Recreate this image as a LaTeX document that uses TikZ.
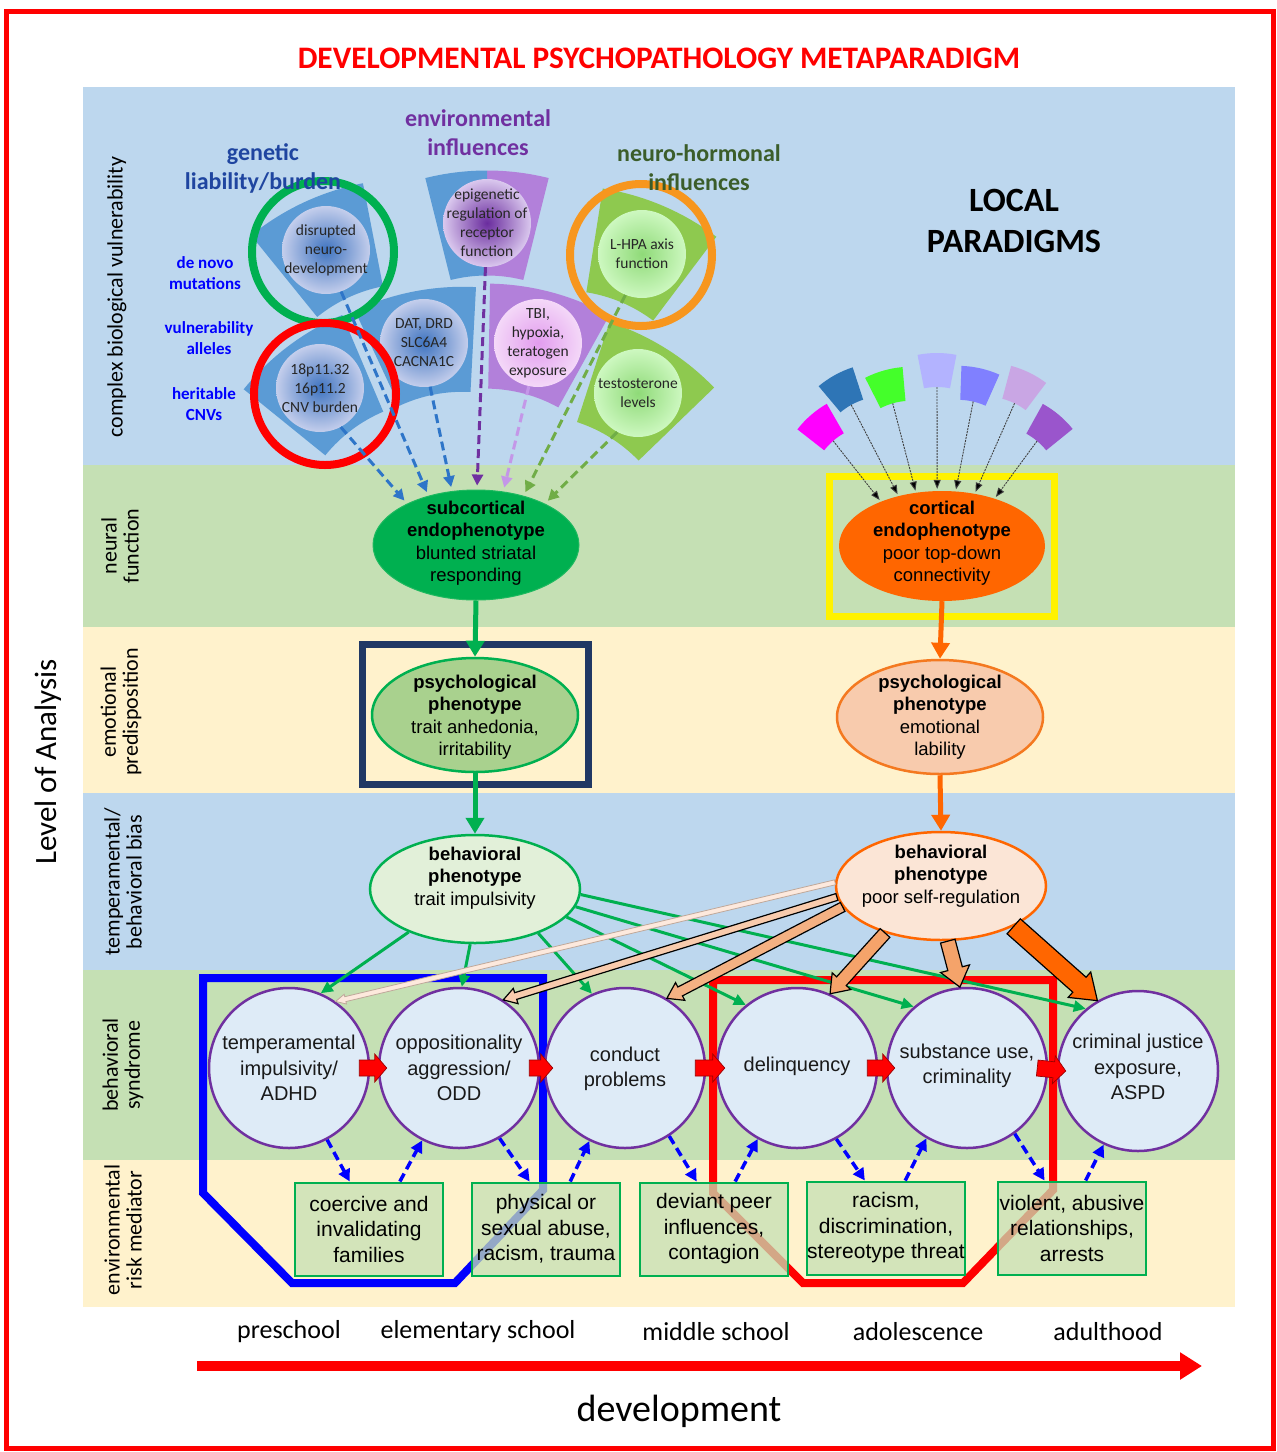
\documentclass[tikz,border=0pt]{standalone}
\usepackage{fontspec}
\setmainfont{Carlito}
\newfontfamily\arialf{Liberation Sans}
\usetikzlibrary{calc,shapes.geometric,arrows.meta}

\definecolor{bandblue}{HTML}{BDD7EE}
\definecolor{bandgreen}{HTML}{C5E0B4}
\definecolor{bandyellow}{HTML}{FFF2CC}
\definecolor{secblue}{HTML}{5B9BD5}
\definecolor{secpurple}{HTML}{B280DA}
\definecolor{secgreen}{HTML}{8EC94F}
\definecolor{genblue}{HTML}{1F45A0}
\definecolor{envpurple}{HTML}{7030A0}
\definecolor{neurogreen}{HTML}{3B5D2A}
\definecolor{msgreen}{HTML}{00B050}
\definecolor{subedge}{HTML}{1EB95F}
\definecolor{orng}{HTML}{FF6600}
\definecolor{orngedge}{HTML}{F47920}
\definecolor{ringorange}{HTML}{F7961E}
\definecolor{navy}{HTML}{203864}
\definecolor{syncirc}{HTML}{DEEBF7}
\definecolor{synring}{HTML}{7030A0}
\definecolor{dashblue}{HTML}{2E75C8}
\definecolor{lightpurp}{HTML}{C497E8}
\definecolor{dashgreen}{HTML}{70AD47}
\definecolor{cbin}{HTML}{3F74C0}
\definecolor{cbout}{HTML}{C4CEEC}
\definecolor{cpin}{HTML}{6A2C9E}
\definecolor{cpout}{HTML}{DAC8EE}
\definecolor{ctin}{HTML}{E29CEE}
\definecolor{ctout}{HTML}{F4D8F8}
\definecolor{cgin}{HTML}{8FDA78}
\definecolor{cgout}{HTML}{CDF8C0}
\definecolor{lpsyfill}{HTML}{A9D18E}
\definecolor{rpsyfill}{HTML}{F8CBAD}
\definecolor{lbpfill}{HTML}{E2F0D9}
\definecolor{rbpfill}{HTML}{FBE5D6}
\definecolor{paleA}{HTML}{FDE9DD}
\definecolor{paleB}{HTML}{BFA89A}
\definecolor{peachA}{HTML}{F8CBAD}
\definecolor{peachB}{HTML}{F4B183}
\definecolor{peachC}{HTML}{F5A36A}
\definecolor{blockedge}{HTML}{9A0000}
\definecolor{sa}{HTML}{FF00FF}
\definecolor{sb}{HTML}{2E75B6}
\definecolor{sc}{HTML}{44FF2A}
\definecolor{sd}{HTML}{B3B3FF}
\definecolor{se}{HTML}{8080FF}
\definecolor{sf}{HTML}{C9A6E4}
\definecolor{sg}{HTML}{9A55CC}

% ring sector around an apex: apex, from angle, to angle, inner r, outer r, style
\newcommand\annsec[6]{%
  \fill[#6] ($(#1)+({#4*cos(#2)},{-#4*sin(#2)})$) --
    ($(#1)+({#5*cos(#2)},{-#5*sin(#2)})$)
    arc[start angle={-(#2)}, end angle={-(#3)}, radius=#5] --
    ($(#1)+({#4*cos(#3)},{-#4*sin(#3)})$)
    arc[start angle={-(#3)}, end angle={-(#2)}, radius=#4] -- cycle;}
% large sector: name, centre, direction, colour
\newcommand\bigsec[4]{%
  \coordinate (#1-ap) at ($(#2)+({-202.5*cos(#3)},{202.5*sin(#3)})$);
  \annsec{#1-ap}{#3-14}{#3+14}{150}{255}{#4}}
% small sector: name, centre, direction, colour
\newcommand\smallsec[4]{%
  \coordinate (#1-ap) at ($(#2)+({-85*cos(#3)},{85*sin(#3)})$);
  \coordinate (#1-in) at ($(#1-ap)+({68*cos(#3)},{-68*sin(#3)})$);
  \annsec{#1-ap}{#3-11}{#3+11}{68}{102}{#4}}
% block arrow: from, to, shaft half width, head half width, head length, style
\newcommand\fatarrow[6]{%
  \coordinate (fa-h) at ($(#2)!#5pt!(#1)$);
  \filldraw[#6] ($(#1)!#3pt!90:(#2)$) -- ($(fa-h)!#3pt!90:(#2)$) --
    ($(fa-h)!#4pt!90:(#2)$) -- (#2) -- ($(fa-h)!#4pt!-90:(#2)$) --
    ($(fa-h)!#3pt!-90:(#2)$) -- ($(#1)!#3pt!-90:(#2)$) -- cycle;}
% red step arrow between two neighbouring syndrome circles
\newcommand\steparrow[3]{%
  \coordinate (#1-s) at ($(#2.east)+(-11,0)$);
  \coordinate (#1-e) at ($(#3.west)+(9,0)$);
  \fatarrow{#1-s}{#1-e}{8}{14}{12}{fill=red, draw=blockedge, line width=0.7pt}}

\begin{document}
\begin{tikzpicture}[x=1pt,y=-1pt,
  rowlab/.style={rotate=90, align=center, font=\fontsize{22}{22}\selectfont},
  grouplab/.style={align=center, font=\bfseries\fontsize{24}{29}\selectfont},
  sidelab/.style={align=center, text=blue, font=\bfseries\fontsize{17}{21}\selectfont},
  topcirc/.style={circle, minimum size=88pt, inner sep=0pt},
  toptext/.style={align=center, font=\fontsize{15.5}{19}\selectfont, text=black!85},
  ring/.style={circle, draw=#1, line width=8pt, minimum size=142pt, inner sep=0pt},
  dasharr/.style={draw=#1, line width=3pt, dash pattern=on 9pt off 5pt, -{Triangle[length=11pt,width=11pt]}, shorten >=4pt},
  ellbase/.style={ellipse, inner sep=0pt, minimum width=206pt, minimum height=110pt},
  etext/.style={align=center, font=\arialf\fontsize{18.5}{22.5}\selectfont, text=black},
  bigarr/.style={draw=#1, line width=5pt, -{Triangle[length=16pt,width=18pt]}},
  syn/.style={circle, minimum size=160pt, inner sep=0pt, fill=syncirc, draw=synring, line width=2.5pt},
  syntext/.style={align=center, font=\arialf\fontsize{20}{25.5}\selectfont, text=black!90},
  envbox/.style={draw=msgreen, line width=2pt, fill=bandgreen, fill opacity=0.75, text opacity=1, minimum width=148pt, minimum height=93pt, inner sep=0pt, align=center, font=\arialf\fontsize{21}{25.5}\selectfont},
  greenarr/.style={draw=msgreen, line width=3pt, -{Triangle[length=12pt,width=11pt]}},
  bluedash/.style={draw=blue, line width=3.5pt, dash pattern=on 9pt off 5pt, -{Triangle[length=12pt,width=12pt]}},
  thinarr/.style={draw=black!75, line width=0.9pt, dash pattern=on 2pt off 1pt, -{Triangle[length=9pt,width=7pt,fill=black]}, shorten >=2pt},
  timelab/.style={font=\fontsize{26}{30}\selectfont},
]
\useasboundingbox (0,0) rectangle (1277,1452);
\fill[white] (0,0) rectangle (1277,1452);

% level bands
\fill[bandblue]   (83,87)   rectangle (1235,465);
\fill[bandgreen]  (83,465)  rectangle (1235,627);
\fill[bandyellow] (83,627)  rectangle (1235,793);
\fill[bandblue]   (83,793)  rectangle (1235,970);
\fill[bandgreen]  (83,970)  rectangle (1235,1160);
\fill[bandyellow] (83,1160) rectangle (1235,1307);

% outer frame and title
\draw[red, line width=5pt] (6,11) rectangle (1273,1448);
\node[font=\bfseries\fontsize{31.3}{36}\selectfont, text=red] (title) at (659,58) {DEVELOPMENTAL PSYCHOPATHOLOGY METAPARADIGM};

% level labels
\node[font=\fontsize{31}{34}\selectfont, rotate=90] (loa) at (48,762) {Level of Analysis};
\node[rowlab] (r1) at (117,297) {complex biological vulnerability};
\node[rowlab] (r2) at (120,546) {neural\\function};
\node[rowlab] (r3) at (121,712) {emotional\\predisposition};
\node[rowlab] (r4) at (123,882) {temperamental/\\behavioral bias};
\node[rowlab] (r5) at (123,1065) {behavioral\\syndrome};
\node[rowlab] (r6) at (123,1230) {environmental\\risk mediator};

% biological influence sectors
\bigsec{dat}{424,343}{101}{secblue}
\bigsec{tbi}{538,343}{75}{secpurple}
\coordinate (epi-ap) at (487,425.5);
\annsec{epi-ap}{76}{90}{150}{255}{secpurple}
\annsec{epi-ap}{90}{104}{150}{255}{secblue}
\bigsec{dis}{326,250}{115}{secblue}
\bigsec{cnv}{320,388}{127}{secblue}
\bigsec{lhpa}{642,254}{67}{secgreen}
\bigsec{tes}{638,393}{58}{secgreen}

\node[topcirc, inner color=cbin, outer color=cbout] (dat) at (424,343) {};
\node[topcirc, inner color=ctin, outer color=ctout] (tbi) at (538,343) {};
\node[topcirc, inner color=cpin, outer color=cpout] (epi) at (487,223) {};
\node[topcirc, inner color=cbin, outer color=cbout] (dis) at (326,250) {};
\node[topcirc, inner color=cbin, outer color=cbout] (cnv) at (320,388) {};
\node[topcirc, inner color=cgin, outer color=cgout] (lhpa) at (642,254) {};
\node[topcirc, inner color=cgin, outer color=cgout] (tes) at (638,393) {};

\node[toptext] (dat-t) at (dat) {DAT, DRD\\SLC6A4\\CACNA1C};
\node[toptext] (tbi-t) at (tbi) {TBI,\\hypoxia,\\teratogen\\exposure};
\node[toptext] (epi-t) at (epi) {epigenetic\\regulation of\\receptor\\function};
\node[toptext] (dis-t) at (dis) {disrupted\\neuro-\\development};
\node[toptext] (cnv-t) at (cnv) {18p11.32\\16p11.2\\CNV burden};
\node[toptext] (lhpa-t) at (lhpa) {L-HPA axis\\function};
\node[toptext] (tes-t) at (tes) {testosterone\\levels};

\node[ring=msgreen] (gring) at (323,252) {};
\node[ring=red] (rring) at (325,394) {};
\node[ring=ringorange] (oring) at (641,255) {};

% group headings
\node[grouplab, text=genblue] (glab) at (263,168) {genetic\\liability/burden};
\node[grouplab, text=envpurple] (elab) at (478,133) {environmental\\influences};
\node[grouplab, text=neurogreen] (nlab) at (699,168) {neuro-hormonal\\influences};
\node[sidelab] (s-dn) at (205,273) {de novo\\mutations};
\node[sidelab] (s-va) at (209,338) {vulnerability\\alleles};
\node[sidelab] (s-hc) at (204,404) {heritable\\CNVs};
\node[align=center, font=\bfseries\fontsize{34}{41}\selectfont] (local) at (1014,221) {LOCAL\\PARADIGMS};

% subcortical pathway
\node[ellbase, fill=msgreen, draw=subedge, line width=1pt] (sub) at (476,545) {};
\node[etext] (sub-t) at (476,543) {\textbf{subcortical}\\\textbf{endophenotype}\\blunted striatal\\responding};
\draw[dasharr=dashblue] (cnv.298) -- (sub.149);
\draw[dasharr=dashblue] (dis.290) -- (sub.134);
\draw[dasharr=dashblue] (dat.278) -- (sub.114);
\draw[dasharr=envpurple] (epi.268) -- (sub.89);
\draw[dasharr=lightpurp] (tbi.258) -- (sub.63);
\draw[dasharr=dashgreen] (lhpa.248) -- (sub.46);
\draw[dasharr=dashgreen] (tes.242) -- (sub.31);

\draw[navy, line width=7pt] (362,644) rectangle (588,784);
\node[ellbase, minimum height=114pt, fill=lpsyfill, draw=msgreen, line width=2.5pt] (lpsy) at (475,715) {};
\node[etext] (lpsy-t) at (475,717) {\textbf{psychological}\\\textbf{phenotype}\\trait anhedonia,\\irritability};
\node[ellbase, minimum width=210pt, minimum height=108pt, fill=lbpfill, draw=msgreen, line width=2.5pt] (lbp) at (475,889) {};
\node[etext] (lbp-t) at (475,878) {\textbf{behavioral}\\\textbf{phenotype}\\trait impulsivity};
\draw[bigarr=msgreen] (sub.south) -- (lpsy.north);
\draw[bigarr=msgreen] (lpsy.south) -- (lbp.north);

% cortical pathway
\smallsec{sa}{822,428}{131}{sa}
\smallsec{sb}{843,390}{119}{sb}
\smallsec{sc}{888,387}{106}{sc}
\smallsec{sd}{937,370}{90}{sd}
\smallsec{se}{977,385}{77}{se}
\smallsec{sf}{1022,388}{64}{sf}
\smallsec{sg}{1048,428}{50}{sg}
\draw[yellow, line width=7pt] (829,476) rectangle (1054,616);
\node[ellbase, fill=orng] (ctx) at (942,546) {};
\node[etext] (ctx-t) at (942,543) {\textbf{cortical}\\\textbf{endophenotype}\\poor top-down\\connectivity};
\draw[thinarr] (sa-in) -- (ctx.144);
\draw[thinarr] (sb-in) -- (ctx.131);
\draw[thinarr] (sc-in) -- (ctx.116);
\draw[thinarr] (sd-in) -- (ctx.95);
\draw[thinarr] (se-in) -- (ctx.76);
\draw[thinarr] (sf-in) -- (ctx.58);
\draw[thinarr] (sg-in) -- (ctx.42);

\node[ellbase, minimum height=114pt, fill=rpsyfill, draw=orngedge, line width=2.5pt] (rpsy) at (940,717) {};
\node[etext] (rpsy-t) at (940,717) {\textbf{psychological}\\\textbf{phenotype}\\emotional\\lability};
\node[ellbase, minimum width=210pt, minimum height=108pt, fill=rbpfill, draw=orng, line width=2.5pt] (rbp) at (941,886) {};
\node[etext] (rbp-t) at (941,876) {\textbf{behavioral}\\\textbf{phenotype}\\poor self-regulation};
\draw[bigarr=orng] (ctx.south) -- (rpsy.north);
\draw[bigarr=orng] (rpsy.south) -- (rbp.north);

% developmental periods
\draw[blue, line width=8pt] (203,978) -- (543,978) -- (543,1190) -- (455,1283) -- (292,1283) -- (203,1193) -- cycle;
\draw[red, line width=8pt] (713,980) -- (1053,980) -- (1053,1190) -- (963,1283) -- (803,1283) -- (713,1193) -- cycle;

% behavioral syndromes
\node[syn] (c1) at (289,1068) {};
\node[syn] (c2) at (459,1068) {};
\node[syn] (c3) at (625,1068) {};
\node[syn] (c4) at (797,1068) {};
\node[syn] (c5) at (967,1068) {};
\node[syn] (c6) at (1138,1071) {};
\node[syntext] (c1-t) at (c1) {temperamental\\impulsivity/\\ADHD};
\node[syntext] (c2-t) at (c2) {oppositionality\\aggression/\\ODD};
\node[syntext] (c3-t) at (625,1069) {conduct\\problems};
\node[syntext] (c4-t) at (797,1066) {delinquency};
\node[syntext] (c5-t) at (967,1066) {substance use,\\criminality};
\node[syntext] (c6-t) at (1138,1067) {criminal justice\\exposure,\\ASPD};
\steparrow{ra1}{c1}{c2}
\steparrow{ra2}{c2}{c3}
\steparrow{ra3}{c3}{c4}
\steparrow{ra4}{c4}{c5}
\steparrow{ra5}{c5}{c6}

% environmental risk mediators
\node[envbox] (b1) at (369,1229) {coercive and\\invalidating\\families};
\node[envbox] (b2) at (546,1229) {physical or\\sexual abuse,\\racism, trauma};
\node[envbox] (b3) at (714,1229) {deviant peer\\influences,\\contagion};
\node[envbox, minimum width=156pt] (b4) at (886,1228) {racism,\\discrimination,\\stereotype threat};
\node[envbox] (b5) at (1072,1228) {violent, abusive\\relationships,\\arrests};
\draw[bluedash] (c1.298) -- (b1.112);
\draw[bluedash] (b1.57) -- (c2.243);
\draw[bluedash] (c2.300) -- (b2.109);
\draw[bluedash] (b2.63) -- (c3.244);
\draw[bluedash] (c3.303) -- (b3.110);
\draw[bluedash] (b3.66) -- (c4.241);
\draw[bluedash] (c4.299) -- (b4.114);
\draw[bluedash] (b4.68) -- (c5.240);
\draw[bluedash] (c5.306) -- (b5.120);
\draw[bluedash] (b5.74) -- (c6.245);

% trait impulsivity paths
\draw[greenarr] (lbp.213) -- (c1.67);
\draw[greenarr] (lbp.265) -- (c2.88);
\draw[greenarr] (lbp.325) -- (c3.114);
\draw[greenarr] (lbp.343) -- (c4.129);
\draw[greenarr] (lbp.350) -- (c5.131);
\draw[greenarr] (lbp.357) -- (c6.130);

% self-regulation paths, growing with age
\fatarrow{rbp.178}{c1.55}{2.5}{5}{10}{fill=paleA, draw=paleB, line width=0.8pt}
\fatarrow{rbp.186}{c2.57}{3.5}{8}{13}{fill=peachA, draw=black, line width=1.2pt}
\fatarrow{rbp.192}{c3.59}{5}{10}{15}{fill=peachB, draw=black, line width=1.2pt}
\fatarrow{rbp.220}{c4.66}{6.5}{12.5}{17}{fill=peachC, draw=black, line width=1.2pt}
\fatarrow{rbp.277}{c5.95}{7.5}{15}{19}{fill=peachC, draw=black, line width=1.2pt}
\fatarrow{rbp.331}{c6.120}{10}{17}{24}{fill=orng, draw=black, line width=1.2pt}

% development axis
\node[timelab] (t1) at (289,1332) {preschool};
\node[timelab] (t2) at (478,1332) {elementary school};
\node[timelab] (t3) at (716,1332) {middle school};
\node[timelab] (t4) at (918,1332) {adolescence};
\node[timelab] (t5) at (1108,1332) {adulthood};
\coordinate (tl0) at (197,1366);
\coordinate (tl1) at (1202,1366);
\draw[red, line width=10pt, -{Triangle[length=22pt,width=26pt]}] (tl0) -- (tl1);
\node[font=\fontsize{38}{42}\selectfont] (dev) at (679,1411) {development};
\end{tikzpicture}
\end{document}
